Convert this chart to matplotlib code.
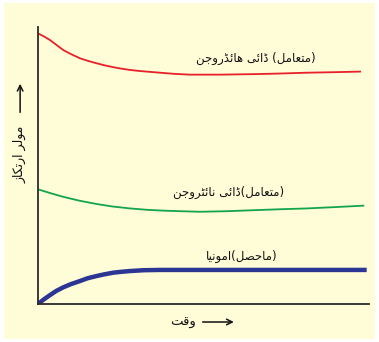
import matplotlib
matplotlib.use('Agg')
import matplotlib.pyplot as plt
from matplotlib.patches import Rectangle
from matplotlib.font_manager import findfont, FontProperties
from matplotlib.ft2font import FT2Font

# values (time 0..10, concentration 0..10)
h2_t = [0.0, 0.18, 0.36, 0.55, 0.76, 1.0, 1.27, 1.5, 1.77, 2.0, 2.27, 2.5, 2.78, 3.0,
        3.28, 3.69, 4.1, 4.59, 5.5, 6.60, 7.3, 8.12, 9.0, 9.73]
h2_c = [9.77, 9.66, 9.53, 9.36, 9.17, 9.02, 8.87, 8.78, 8.69, 8.62, 8.55, 8.50, 8.45, 8.42,
        8.39, 8.35, 8.31, 8.28, 8.28, 8.30, 8.32, 8.35, 8.37, 8.39]
n2_t = [0.0, 0.38, 0.76, 1.25, 1.77, 2.25, 2.78, 3.3, 3.79, 4.3, 4.89, 5.7, 6.60, 7.3, 8.12, 9.0, 9.83]
n2_c = [4.14, 4.00, 3.87, 3.73, 3.61, 3.52, 3.45, 3.40, 3.37, 3.35, 3.33, 3.35, 3.39, 3.42, 3.45, 3.50, 3.55]
nh3_t = [0.0, 0.18, 0.36, 0.55, 0.76, 1.0, 1.27, 1.5, 1.77, 2.0, 2.27, 2.5, 2.78, 3.2, 3.69, 5.0, 7.5, 9.93]
nh3_c = [0.0, 0.17, 0.32, 0.47, 0.60, 0.72, 0.83, 0.93, 1.01, 1.07, 1.13, 1.16, 1.19, 1.22, 1.23, 1.23, 1.23, 1.23]

lbl_h2 = ('ڈائی ہائڈروجن', 'متعامل', ' ')
lbl_n2 = ('ڈائی نائٹروجن', 'متعامل', '')
lbl_nh3 = ('امونیا', 'ماحصل', '')
ylab = 'مولر ارتکاز'
xlab = 'وقت'

# minimal arabic/urdu shaping: (isolated, final, initial, medial)
FORMS = {
    'ا': (0xFE8D, 0xFE8E, None, None),
    'ئ': (0xFE89, 0xFE8A, 0xFE8B, 0xFE8C),
    'ی': (0xFBFC, 0xFBFD, 0xFBFE, 0xFBFF),
    'ہ': (0xFBA6, 0xFBA7, 0xFBA8, 0xFBA9),
    'ڈ': (0xFB88, 0xFB89, None, None),
    'ر': (0xFEAD, 0xFEAE, None, None),
    'و': (0xFEED, 0xFEEE, None, None),
    'ز': (0xFEAF, 0xFEB0, None, None),
    'ج': (0xFE9D, 0xFE9E, 0xFE9F, 0xFEA0),
    'ن': (0xFEE5, 0xFEE6, 0xFEE7, 0xFEE8),
    'م': (0xFEE1, 0xFEE2, 0xFEE3, 0xFEE4),
    'ت': (0xFE95, 0xFE96, 0xFE97, 0xFE98),
    'ع': (0xFEC9, 0xFECA, 0xFECB, 0xFECC),
    'ل': (0xFEDD, 0xFEDE, 0xFEDF, 0xFEE0),
    'ٹ': (0xFB66, 0xFB67, 0xFB68, 0xFB69),
    'ح': (0xFEA1, 0xFEA2, 0xFEA3, 0xFEA4),
    'ص': (0xFEB9, 0xFEBA, 0xFEBB, 0xFEBC),
    'ق': (0xFED5, 0xFED6, 0xFED7, 0xFED8),
    'ک': (0xFB8E, 0xFB8F, 0xFB90, 0xFB91),
}
# heh goal is missing from DejaVu, use plain heh shapes instead
HEH = (0xFEE9, 0xFEEA, 0xFEEB, 0xFEEC)

font_path = findfont(FontProperties(family='DejaVu Sans'))
cmap = FT2Font(font_path).get_charmap()


def dual(c):
    return c in FORMS and FORMS[c][2] is not None


def shape(s):
    out = []
    for i, c in enumerate(s):
        if c not in FORMS:
            out.append(c)
            continue
        prev = s[i - 1] if i > 0 else ' '
        nxt = s[i + 1] if i + 1 < len(s) else ' '
        jp = dual(prev)
        jn = dual(c) and nxt in FORMS
        k = 3 if (jp and jn) else 1 if jp else 2 if jn else 0
        code = FORMS[c][k]
        if code not in cmap and c == 'ہ':
            code = HEH[k]
        out.append(chr(code) if code in cmap else c)
    return ''.join(reversed(out))


def label(parts):
    # right-to-left: the bracketed word comes first, so it sits on the right
    return shape(parts[0]) + parts[2] + '(' + shape(parts[1]) + ')'


fig = plt.figure(figsize=(3.79, 3.42), dpi=100, facecolor='white')
fig.patches.append(Rectangle((4 / 379, 3 / 342), 371 / 379, 336 / 342,
                             transform=fig.transFigure, facecolor='#FFFCD8',
                             edgecolor='none', zorder=-10))
ax = fig.add_axes([38 / 379, 38 / 342, 331 / 379, 277 / 342])
ax.set_facecolor('none')
ax.set_zorder(5)

ax.plot(h2_t, h2_c, color='#E8202A', lw=1.3)
ax.plot(n2_t, n2_c, color='#13A54A', lw=1.3)
ax.plot(nh3_t, nh3_c, color='#2B3593', lw=3.2, solid_capstyle='butt')

ax.set_xlim(0, 10)
ax.set_ylim(0, 10)
ax.set_xticks([])
ax.set_yticks([])
for s in ['top', 'right']:
    ax.spines[s].set_visible(False)
for s in ['left', 'bottom']:
    ax.spines[s].set_color('#2a2a2a')
    ax.spines[s].set_linewidth(1.3)

tkw = dict(ha='center', va='center', fontsize=8.5, family='DejaVu Sans', color='#111111')
ax.text(6.59, 8.85, label(lbl_h2), **tkw)
ax.text(5.77, 4.02, label(lbl_n2), **tkw)
ax.text(6.16, 1.70, label(lbl_nh3), **tkw)

# axis titles with long arrows
ax.text(0.438, -0.065, shape(xlab), transform=ax.transAxes, ha='center', va='center',
        fontsize=9.5, family='DejaVu Sans', color='#111111')
ax.annotate('', xy=(0.60, -0.065), xytext=(0.489, -0.065), xycoords='axes fraction',
            arrowprops=dict(arrowstyle='->', lw=1.1, color='#111111'), annotation_clip=False)
ax.text(-0.054, 0.542, shape(ylab), transform=ax.transAxes, ha='center', va='center',
        rotation=90, fontsize=9, family='DejaVu Sans', color='#111111')
ax.annotate('', xy=(-0.054, 0.805), xytext=(-0.054, 0.682), xycoords='axes fraction',
            arrowprops=dict(arrowstyle='->', lw=1.1, color='#111111'), annotation_clip=False)

fig.savefig('out.png', dpi=100, facecolor='white')
